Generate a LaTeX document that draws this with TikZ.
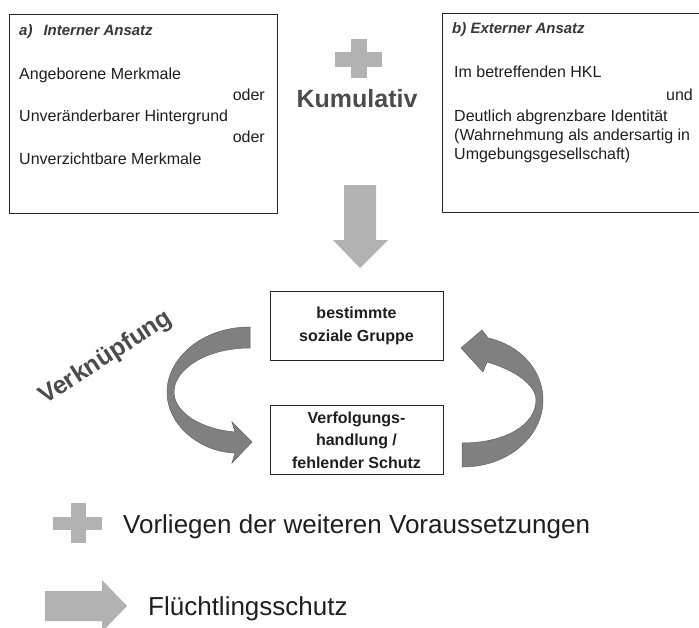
\documentclass[tikz,border=0pt]{standalone}
\usepackage{fontspec}
\setmainfont{Liberation Sans}
\begin{document}
\begin{tikzpicture}[x=1pt,y=-1pt]
\tikzset{
 txt/.style={inner sep=0pt, anchor=base west, font=\fontsize{16}{18}\selectfont, text=black!88},
 txtr/.style={txt, anchor=base east},
 ttl/.style={inner sep=0pt, anchor=base west, font=\fontsize{15}{17}\selectfont\bfseries\itshape, text=black!78},
 frame/.style={draw=black!85, line width=1.2pt, inner sep=0pt, anchor=north west},
 sbox/.style={draw=black!85, line width=1pt, minimum width=173pt, minimum height=69pt, inner sep=0pt, align=center, font=\fontsize{16}{22.5}\selectfont\bfseries, text=black!88},
 lightshape/.style={fill=black!30, draw=none},
 darkshape/.style={fill=black!50, draw=black!62, line width=0.5pt},
 bigbold/.style={inner sep=0pt, font=\fontsize{25}{30}\selectfont\bfseries, text=black!70},
 bigtxt/.style={inner sep=0pt, anchor=base west, font=\fontsize{26}{30}\selectfont, text=black!88},
}
\clip (0,0) rectangle (699,627);
\fill[white] (0,0) rectangle (699,627);

% box a
\node[frame, minimum width=268pt, minimum height=199pt] (boxa) at (9,14) {};
\node[ttl] (ta) at (19,35) {a)\hspace{11pt}Interner Ansatz};
\node[txt] (a1) at (19,79) {Angeborene Merkmale};
\node[txtr] (a2) at (265,100) {oder};
\node[txt] (a3) at (19,121) {Unveränderbarer Hintergrund};
\node[txtr] (a4) at (265,142) {oder};
\node[txt] (a5) at (19,164) {Unverzichtbare Merkmale};

% box b
\node[frame, minimum width=275pt, minimum height=199pt] (boxb) at (442,13) {};
\node[ttl] (tb) at (452,33) {b) Externer Ansatz};
\node[txt] (b1) at (454,77) {Im betreffenden HKL};
\node[txtr] (b2) at (693,100) {und};
\node[txt] (b3) at (454,121) {Deutlich abgrenzbare Identität};
\node[txt] (b4) at (454,140) {(Wahrnehmung als andersartig in};
\node[txt] (b5) at (454,159) {Umgebungsgesellschaft)};

% plus and Kumulativ
\fill[lightshape] (335,52) rectangle (382,67);
\fill[lightshape] (351,39) rectangle (367,78);
\node[bigbold, anchor=base] (kum) at (357,107) {Kumulativ};

% down arrow
\fill[lightshape] (344,185) -- (376,185) -- (376,240) -- (388,240) -- (360,268) -- (333,240) -- (344,240) -- cycle;

% middle boxes
\node[sbox] (sg) at (356.5,326) {bestimmte\\soziale Gruppe};
\node[sbox] (vf) at (356.5,440) {Verfolgungs-\\handlung /\\fehlender Schutz};

% left curved arrow
\filldraw[darkshape] (250,327) .. controls (200,327) and (167,360) .. (167,392)
  .. controls (167,425) and (200,452) .. (235,453)
  -- (232,463) -- (252,442) -- (232,422) -- (235,432)
  .. controls (200,429) and (174,412) .. (174,392)
  .. controls (174,370) and (205,348) .. (250,348) -- cycle;

% right curved arrow
\filldraw[darkshape] (462,467) .. controls (510,467) and (543,435) .. (543,400)
  .. controls (543,370) and (520,345) .. (488,338)
  -- (482,330) -- (461,348) -- (483,372) -- (487,362)
  .. controls (515,370) and (536,385) .. (536,400)
  .. controls (536,425) and (505,443) .. (462,443) -- cycle;

% Verknuepfung
\node[bigbold, rotate=33] (verk) at (106,358) {Verknüpfung};

% bottom legend
\fill[lightshape] (53,517) rectangle (102,530);
\fill[lightshape] (71,503) rectangle (86,543);
\node[bigtxt] (vor) at (123,533) {Vorliegen der weiteren Voraussetzungen};
\fill[lightshape] (45,591) -- (102,591) -- (102,580) -- (127,606) -- (102,632) -- (102,621) -- (45,621) -- cycle;
\node[bigtxt] (fl) at (148,615) {Flüchtlingsschutz};
\end{tikzpicture}
\end{document}
